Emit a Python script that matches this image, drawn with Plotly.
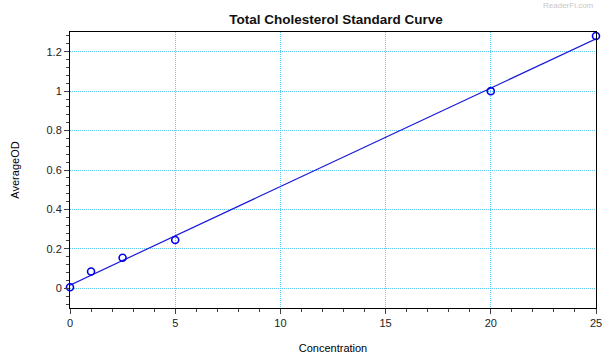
import numpy as np
import plotly.graph_objects as go

# Standard curve measurements
concentration = [0, 1, 2.5, 5, 20, 25]
average_od = [0.005, 0.085, 0.155, 0.245, 1.0, 1.28]

# Linear fit through the standards
slope, intercept = np.polyfit(concentration, average_od, 1)
fit_x = [0, 25]
fit_y = [intercept + slope * v for v in fit_x]

fig = go.Figure()
fig.add_trace(go.Scatter(
    x=fit_x, y=fit_y, mode="lines",
    line=dict(color="#1a1adb", width=1.2),
    hoverinfo="skip",
))
fig.add_trace(go.Scatter(
    x=concentration, y=average_od, mode="markers",
    marker=dict(symbol="circle-open", size=7, color="#0000ee", line=dict(width=1.6)),
    cliponaxis=False,
))

grid = dict(gridcolor="#5ccbf2", griddash="1px,1px", gridwidth=1)
fig.update_xaxes(
    range=[0, 25], tickvals=[0, 5, 10, 15, 20, 25],
    ticks="outside", ticklen=5, tickcolor="#444",
    minor=dict(dtick=1, tick0=0, ticks="outside", ticklen=3, tickcolor="#444", showgrid=False),
    showline=True, linecolor="black", linewidth=1, mirror=True,
    zeroline=False, automargin=False,
    title=dict(text="Concentration", font=dict(size=11, color="black"), standoff=16),
    tickfont=dict(size=11, color="#222"),
    **grid,
)
fig.update_yaxes(
    range=[-0.1, 1.3], tickvals=[0, 0.2, 0.4, 0.6, 0.8, 1, 1.2],
    ticktext=["0", "0.2", "0.4", "0.6", "0.8", "1", "1.2"],
    ticks="outside", ticklen=5, tickcolor="#444",
    minor=dict(dtick=0.04, tick0=0, ticks="outside", ticklen=3, tickcolor="#444", showgrid=False),
    showline=True, linecolor="black", linewidth=1, mirror=True,
    zeroline=False, automargin=False,
    title=dict(text="AverageOD", font=dict(size=11, color="black"), standoff=24),
    tickfont=dict(size=11, color="#222"),
    **grid,
)

fig.update_layout(
    width=605, height=356,
    margin=dict(l=70, r=9, t=32, b=48),
    paper_bgcolor="white", plot_bgcolor="white",
    showlegend=False,
    font=dict(family="Liberation Sans, Arial, sans-serif"),
    title=dict(
        text="<b>Total Cholesterol Standard Curve</b>",
        x=336 / 605, xanchor="center",
        y=1 - 19 / 356, yanchor="middle",
        font=dict(size=13.5, color="#111"),
    ),
    annotations=[dict(
        text="ReaderFi.com", xref="paper", yref="paper",
        x=1.0, y=1 + 27 / 276, xanchor="right", yanchor="middle",
        showarrow=False, font=dict(size=8, color="#c8c8c8"),
    )],
)

fig.write_html("out.html")
